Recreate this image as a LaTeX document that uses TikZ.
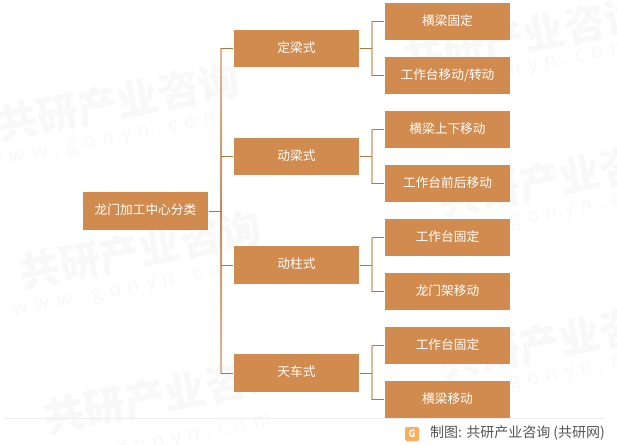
\documentclass[tikz,border=0pt]{standalone}
\usepackage{fontspec}
\setmainfont{Noto Sans CJK SC}
\usetikzlibrary{calc,positioning}
\definecolor{boxorange}{RGB}{210,139,78}
\definecolor{stubbrown}{RGB}{184,115,60}
\definecolor{trunktan}{RGB}{222,186,155}
\definecolor{trunkdark}{RGB}{190,140,100}
\definecolor{markgray}{RGB}{248,248,248}
\definecolor{rulegray}{RGB}{238,238,238}
\definecolor{creditgray}{RGB}{85,85,85}
\tikzset{
	x=1pt,
	y=-1pt,
	box/.style={fill=boxorange, text=white, minimum width=125pt, minimum height=37.5pt, inner sep=0pt, text height=11pt, text depth=3.5pt, font=\fontsize{12.7}{14}\selectfont},
	stub/.style={draw=stubbrown, line width=1pt},
	trunk/.style={draw=trunktan, line width=2pt},
	markname/.style={text=markgray, rotate=11, font=\fontsize{41}{43}\selectfont\bfseries},
	markurl/.style={text=markgray, rotate=11, font=\fontsize{20}{22}\selectfont},
}
\newcommand{\urltext}{w\,\,w\,\,w\,\,.\,\,g\,\,o\,\,n\,\,y\,\,n\,\,.\,\,c\,\,o\,\,m}
\begin{document}
\begin{tikzpicture}
	\useasboundingbox (0,0) rectangle (617,444);

	% watermark
	\node[markname] (w1) at (118,102) {共研产业咨询};
	\node[markurl] (u1) at (105,142) {\urltext};
	\node[markname] (w2) at (524,36) {共研产业咨询};
	\node[markurl] (u2) at (512,72) {\urltext};
	\node[markname] (w3) at (140,250) {共研产业咨询};
	\node[markurl] (u3) at (130,290) {\urltext};
	\node[markname] (w4) at (560,178) {共研产业咨询};
	\node[markurl] (u4) at (548,216) {\urltext};
	\node[markname] (w5) at (165,395) {共研产业咨询};
	\node[markurl] (u5) at (155,445) {\urltext};
	\node[markname] (w6) at (560,340) {共研产业咨询};
	\node[markurl] (u6) at (548,378) {\urltext};

	\coordinate (ruleL) at (5,418.5);
	\coordinate (ruleR) at (605,418.5);
	\draw[rulegray, line width=1.2pt] (ruleL) -- (ruleR);

	\node[box] (root) at (145.5,211) {龙门加工中心分类};

	\node[box] (m1) at (296.5,48.5) {定梁式};
	\node[box] (m2) at (296.5,156.5) {动梁式};
	\node[box] (m3) at (296.5,265) {动柱式};
	\node[box] (m4) at (296.5,373) {天车式};

	\node[box] (l1) at (447.5,21.5) {横梁固定};
	\node[box] (l2) at (447.5,75.5) {工作台移动/转动};
	\node[box] (l3) at (447.5,129.5) {横梁上下移动};
	\node[box] (l4) at (447.5,183.5) {工作台前后移动};
	\node[box] (l5) at (447.5,237.5) {工作台固定};
	\node[box] (l6) at (447.5,291.5) {龙门架移动};
	\node[box] (l7) at (447.5,345.5) {工作台固定};
	\node[box] (l8) at (447.5,399.5) {横梁移动};

	% connectors
	\coordinate (forkA) at ($(root.east)+(13,0)$);
	\shade[top color=trunktan, bottom color=trunktan, middle color=trunkdark]
		($(forkA |- m1.west)+(-1,0)$) rectangle ($(forkA |- m4.west)+(1,0)$);
	\foreach \mid/\upper/\lower in {m1/l1/l2, m2/l3/l4, m3/l5/l6, m4/l7/l8}{
		\coordinate (fork) at ($(\mid.east)+(13,0)$);
		\draw[trunk] (fork |- \upper.west) -- (fork |- \lower.west);
		\draw[stub] ($(\mid.east)+(1,0)$) -- (fork);
		\draw[stub] (fork |- \upper.west) -- ($(\upper.west)+(-1,0)$);
		\draw[stub] (fork |- \lower.west) -- ($(\lower.west)+(-1,0)$);
	}
	\draw[stub] ($(root.east)+(1,0)$) -- (forkA);
	\foreach \mid in {m1,m2,m3,m4}{
		\draw[stub] (forkA |- \mid.west) -- ($(\mid.west)+(-1,0)$);
	}

	% footer
	\node[fill=orange!65, rounded corners=1.5pt, minimum size=14pt, inner sep=0pt, text=white, font=\fontsize{10}{10}\selectfont\bfseries] (logo) at (412,434) {G};
	\node[anchor=west, text=creditgray, font=\fontsize{14}{16}\selectfont, inner sep=0pt] (credit) at (430,433) {制图: 共研产业咨询 (共研网)};
\end{tikzpicture}
\end{document}
